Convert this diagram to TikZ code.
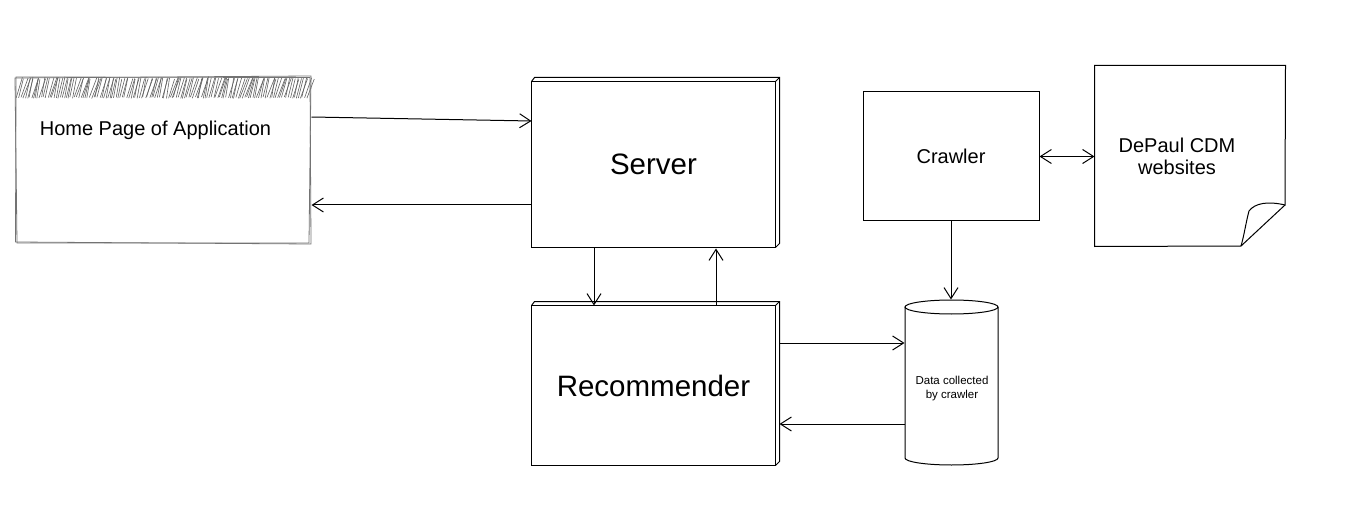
\documentclass[tikz,border=0pt]{standalone}
\usepackage{fontspec}
\setmainfont{Liberation Sans}
\usetikzlibrary{arrows.meta,calc}
\begin{document}
\begin{tikzpicture}[x=1pt,y=-1pt,
  line width=1pt,
  arr/.style={-{Straight Barb[length=11pt,width=14pt]}},
  biarr/.style={{Straight Barb[length=11pt,width=14pt]}-{Straight Barb[length=11pt,width=14pt]}},
  sketch/.style={draw=black!55,line width=0.8pt},
  hatch/.style={draw=black!62,line width=0.6pt},
  big/.style={font=\fontsize{29.5}{33}\selectfont},
  mid/.style={font=\fontsize{20}{23}\selectfont},
  small/.style={font=\fontsize{11.5}{14}\selectfont,align=center}
]
\useasboundingbox (0,0) rectangle (1347,505);
% nodes
\node[inner sep=0pt,minimum width=296pt,minimum height=166pt] (home) at (163,160) {};
\node[inner sep=0pt,minimum width=243pt,minimum height=165pt,big] (server) at (653.5,164.5) {Server};
\node[inner sep=0pt,minimum width=243pt,minimum height=159pt,big] (rec) at (653.5,385.5) {Recommender};
\node[draw,inner sep=0pt,minimum width=176pt,minimum height=129pt,mid] (crawler) at (951,156.5) {Crawler};
\node[inner sep=0pt,minimum width=190pt,minimum height=180pt] (dp) at (1190,156) {};
\node[inner sep=0pt,minimum width=93pt,minimum height=165pt] (data) at (951.5,382.5) {};
% home page sketch
\pgfmathsetseed{7}
\foreach \i in {0,...,140} {
  \draw[hatch] ({16+\i*2.07+rnd*1.5}, {97+rnd*1.5}) -- ++({3+rnd*5}, {-19-rnd*1.5});
}
\draw[sketch] (15,78) -- (311,76) -- (309,243) -- (17,243) -- cycle;
\draw[sketch] (16,77) -- (310,77.5) -- (311,244) -- (15.5,242) -- cycle;
\node[anchor=west,mid] (hometext) at (36,130) {Home Page of Application};
% 3D boxes
\foreach \b in {server,rec} {
  \draw (\b.south west) rectangle (\b.north east);
  \draw (\b.north west) -- ++(3,-4) -- ($(\b.north east)+(4,-4)$) -- ($(\b.south east)+(4,-4)$) -- (\b.south east);
  \draw (\b.north east) -- ++(4,-4);
}
% note
\draw (dp.north west) -- (dp.north east) -- (1285,205)
  .. controls (1268,201) and (1255,203) .. (1249,211)
  .. controls (1246,222) and (1244,236) .. (1241,246) -- (dp.south west) -- cycle;
\draw (1285,205) -- (1241,246);
\node[mid,align=center] (dptext) at (1177,156) {DePaul CDM\\[-1pt]websites};
% cylinder
\draw (905,307) -- (905,458) arc[start angle=180,end angle=360,x radius=46.5,y radius=-7] -- (998,307);
\draw (951.5,307) ellipse[x radius=46.5,y radius=7];
\node[small] (datatext) at (952,389) {Data collected\\by crawler};
% connectors
\draw[arr] (home.east |- 0,117) -- (server.west |- 0,121);
\draw[arr] (server.west |- 0,205) -- (home.east |- 0,205);
\draw[arr] (server.south -| 594,0) -- (rec.north -| 594,0);
\draw[arr] (rec.north -| 716,0) -- ($(server.south -| 716,0)+(0,1)$);
\draw[arr] ($(rec.east |- 0,343)+(4,0)$) -- (data.west |- 0,343);
\draw[arr] (data.west |- 0,424) -- ($(rec.east |- 0,424)+(4,0)$);
\draw[arr] (crawler.south -| 951,0) -- (data.north -| 951,0);
\draw[biarr] (crawler.east) -- (dp.west |- crawler.east);
\end{tikzpicture}
\end{document}
